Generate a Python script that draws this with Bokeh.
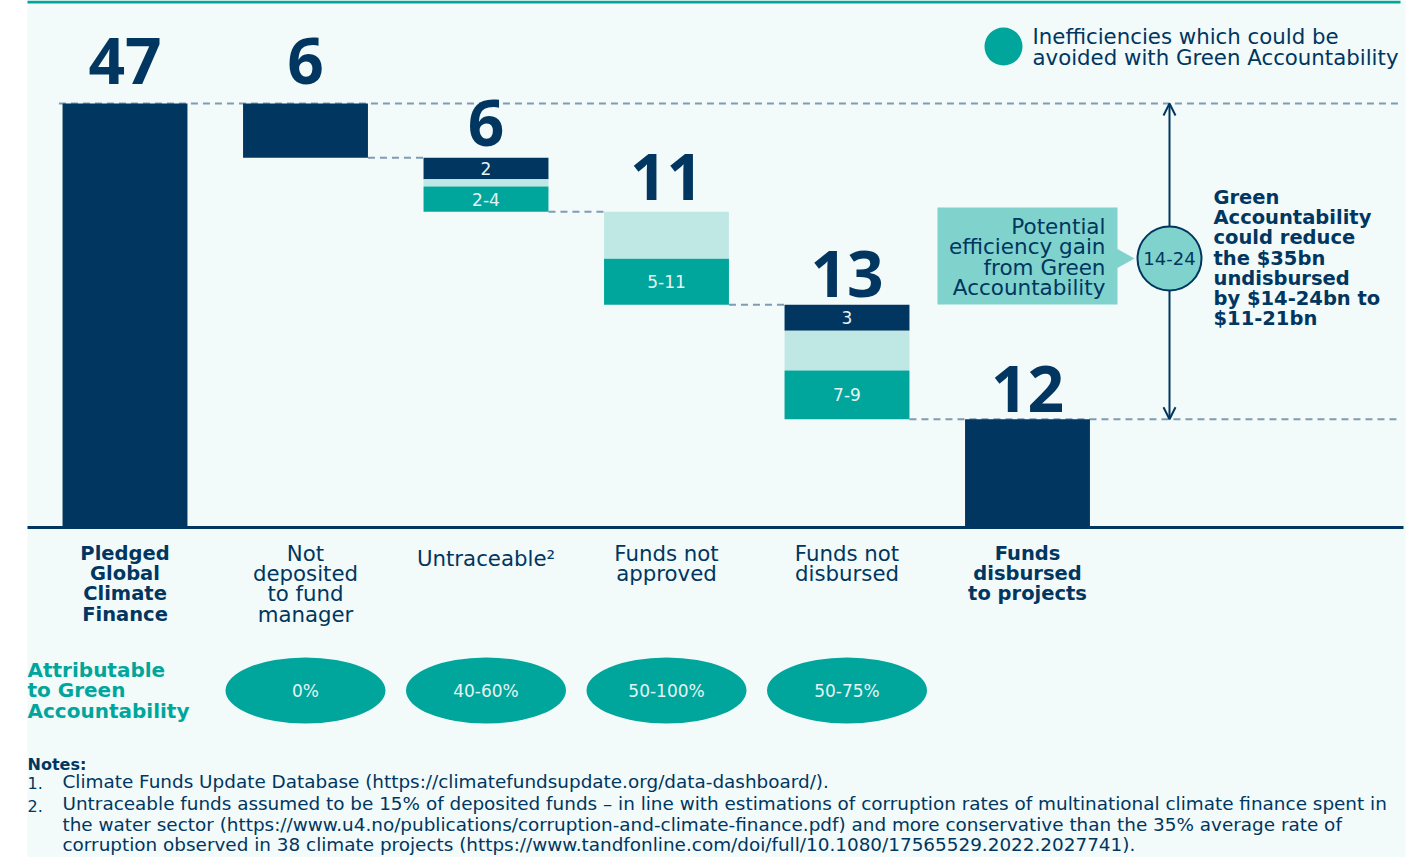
from bokeh.plotting import figure
from bokeh.models import Range1d, Arrow, OpenHead
from bokeh.core.properties import value
from bokeh.embed import file_html
from bokeh.resources import INLINE

# ---------------- data ----------------
categories = [
    "Pledged\nGlobal\nClimate\nFinance",
    "Not\ndeposited\nto fund\nmanager",
    "Untraceable²",
    "Funds not\napproved",
    "Funds not\ndisbursed",
    "Funds\ndisbursed\nto projects",
]
bold_category = [True, False, False, False, False, True]
value_labels = ["47", "6", "6", "11", "13", "12"]
dark = [47.0, 6.0, 2.4, 0.0, 2.9, 12.0]
light = [0.0, 0.0, 0.8, 5.2, 4.4, 0.0]
teal = [0.0, 0.0, 2.8, 5.1, 5.4, 0.0]
dark_labels = ["", "", "2", "", "3", ""]
teal_labels = ["", "", "2-4", "5-11", "7-9", ""]
attributable = ["0%", "40-60%", "50-100%", "50-75%"]
attributable_idx = [1, 2, 3, 4]
gain_label = "14-24"

# ---------------- style ----------------
NAVY = "#00365f"
TEAL = "#00a69c"
LIGHT = "#bfe8e5"
CALLOUT = "#80d2cc"
BG = "#f2fafa"
DASH = "#7f9cb3"
INNER = "#e6f3f3"
FONT = value("DejaVu Sans")
NUMFONT = value("Open Sans")

W, H = 1423, 857
SX = 180.5
X0 = 124.5
SY = 424 / 47
Y0 = 527


def X(px):
    return (px - X0) / SX


def Y(py):
    return (Y0 - py) / SY


p = figure(width=W, height=H, x_range=Range1d(X(0), X(W)), y_range=Range1d(Y(H), Y(0)),
           output_backend="svg", toolbar_location=None, x_axis_type=None, y_axis_type=None,
           min_border=0, min_border_left=0, min_border_right=0, min_border_top=0, min_border_bottom=0)
p.outline_line_color = None
p.grid.visible = False
p.background_fill_color = "white"
p.border_fill_color = "white"

# background panel + top rule
p.quad(left=[X(27)], right=[X(1405)], top=[Y(0)], bottom=[Y(H)], fill_color=BG, line_color=None)
p.quad(left=[X(27)], right=[X(1400)], top=[Y(0)], bottom=[Y(3)], fill_color=TEAL, line_color=None)

# ---------------- waterfall geometry ----------------
n = len(categories)
hw = 0.346
xs = list(range(n))
tops, d_bot, l_bot, t_bot = [], [], [], []
level = dark[0]
for i in range(n):
    if i == 0 or i == n - 1:
        top = dark[i]
    else:
        top = level
        level = top - dark[i] - light[i] - teal[i]
    tops.append(top)
    d_bot.append(top - dark[i])
    l_bot.append(top - dark[i] - light[i])
    t_bot.append(top - dark[i] - light[i] - teal[i])

ends = [t_bot[i] if 0 < i < n - 1 else dark[i] for i in range(n)]

# dashed connectors
x0s, x1s, ys = [], [], []
for i in range(1, n - 2):
    x0s.append(i + hw)
    x1s.append(i + 1 - hw)
    ys.append(ends[i])
p.segment(x0=x0s, y0=ys, x1=x1s, y1=ys, line_color=DASH, line_width=2, line_dash="7 5")
p.segment(x0=[-hw - 0.02, n - 2 + hw], y0=[dark[0], dark[-1]], x1=[X(1400), X(1400)],
          y1=[dark[0], dark[-1]], line_color=DASH, line_width=2, line_dash="7 5")

# bars
p.vbar(x=xs, width=2 * hw, top=tops, bottom=d_bot, fill_color=NAVY, line_color=None)
p.vbar(x=xs, width=2 * hw, top=d_bot, bottom=l_bot, fill_color=LIGHT, line_color=None)
p.vbar(x=xs, width=2 * hw, top=l_bot, bottom=t_bot, fill_color=TEAL, line_color=None)

# baseline
p.segment(x0=[X(27)], y0=[0], x1=[X(1403)], y1=[0], line_color=NAVY, line_width=3)

# big value labels (centre placed a fixed pixel gap above each bar top)
gap_px = [43, 43, 35, 35, 31, 30]
p.text(x=xs, y=[tops[i] + gap_px[i] / SY for i in range(n)], text=value_labels,
       text_font=NUMFONT, text_font_style="bold", text_font_size="64px", text_color=NAVY,
       text_align="center", text_baseline="middle")

# inner labels
dx, dy, dt = [], [], []
for i in range(n):
    if dark_labels[i]:
        dx.append(i); dy.append((tops[i] + d_bot[i]) / 2); dt.append(dark_labels[i])
    if teal_labels[i]:
        dx.append(i); dy.append((l_bot[i] + t_bot[i]) / 2); dt.append(teal_labels[i])
p.text(x=dx, y=dy, text=dt, text_font=FONT, text_font_size="17px", text_color=INNER,
       text_align="center", text_baseline="middle")


def multiline(xval, first_py, step, txt, font=FONT, **kw):
    ls = txt.split("\n")
    p.text(x=[xval] * len(ls), y=[Y(first_py + k * step) for k in range(len(ls))], text=ls,
           text_font=font, text_baseline="middle", **kw)


# category labels
for i, c in enumerate(categories):
    first = 558 if "\n" not in c else 553
    b = bold_category[i]
    multiline(i, first, 20.2, c, text_align="center",
              text_font_size="19.5px" if b else "21.3px", text_color=NAVY,
              text_font_style="bold" if b else "normal")

# attributable row
multiline(X(27), 669, 20.5, "Attributable\nto Green\nAccountability", text_align="left",
          text_font_size="20px", text_color=TEAL, text_font_style="bold")
p.ellipse(x=attributable_idx, y=[Y(690)] * len(attributable_idx), width=160, height=66,
          width_units="screen", height_units="screen", fill_color=TEAL, line_color=None)
p.text(x=attributable_idx, y=[Y(690)] * len(attributable_idx), text=attributable,
       text_font=FONT, text_font_size="17px", text_color=INNER, text_align="center",
       text_baseline="middle")

# legend
p.scatter(x=[X(1003)], y=[Y(46)], size=38, marker="circle", fill_color=TEAL, line_color=None)
multiline(X(1032), 36, 21, "Inefficiencies which could be\navoided with Green Accountability",
          text_align="left", text_font_size="21.3px", text_color=NAVY)

# callout box + pointer
p.quad(left=[X(937)], right=[X(1117)], top=[Y(207)], bottom=[Y(304)], fill_color=CALLOUT,
       line_color=None)
p.patch(x=[X(1116), X(1134), X(1116)], y=[Y(248), Y(258), Y(268)], fill_color=CALLOUT,
        line_color=None)
multiline(X(1105), 226, 20.3, "Potential\nefficiency gain\nfrom Green\nAccountability",
          text_align="right", text_font_size="21.5px", text_color=NAVY)

# vertical double arrow
R = 32
cx, cy = X(1169), Y(258)
for yend, sgn in ((dark[0], 1), (dark[-1], -1)):
    p.add_layout(Arrow(x_start=cx, y_start=cy + sgn * R / SY, x_end=cx, y_end=yend,
                       line_color=NAVY, line_width=2,
                       end=OpenHead(size=12, line_color=NAVY, line_width=2)))
p.scatter(x=[cx], y=[cy], size=2 * R, marker="circle", fill_color=CALLOUT, line_color=NAVY,
          line_width=2)
p.text(x=[cx], y=[cy], text=[gain_label], text_font=FONT, text_font_size="18px",
       text_color=NAVY, text_align="center", text_baseline="middle")

multiline(X(1213), 197, 20.2,
          "Green\nAccountability\ncould reduce\nthe $35bn\nundisbursed\nby $14-24bn to\n$11-21bn",
          text_align="left", text_font_size="19.5px", text_color=NAVY, text_font_style="bold")

# notes
multiline(X(27), 764, 0, "Notes:", text_align="left", text_font_size="16px", text_color=NAVY,
          text_font_style="bold")
multiline(X(27), 782, 23, "1.\n2.", text_align="left", text_font_size="16px", text_color=NAVY)
multiline(X(62), 781, 0,
          "Climate Funds Update Database (https://climatefundsupdate.org/data-dashboard/).",
          text_align="left", text_font_size="18.4px", text_color=NAVY)
multiline(X(62), 803, 20.5,
          "Untraceable funds assumed to be 15% of deposited funds – in line with estimations of corruption rates of multinational climate finance spent in\n"
          "the water sector (https://www.u4.no/publications/corruption-and-climate-finance.pdf) and more conservative than the 35% average rate of\n"
          "corruption observed in 38 climate projects (https://www.tandfonline.com/doi/full/10.1080/17565529.2022.2027741).",
          text_align="left", text_font_size="18.4px", text_color=NAVY)

open("out.html", "w").write(file_html(p, INLINE))
